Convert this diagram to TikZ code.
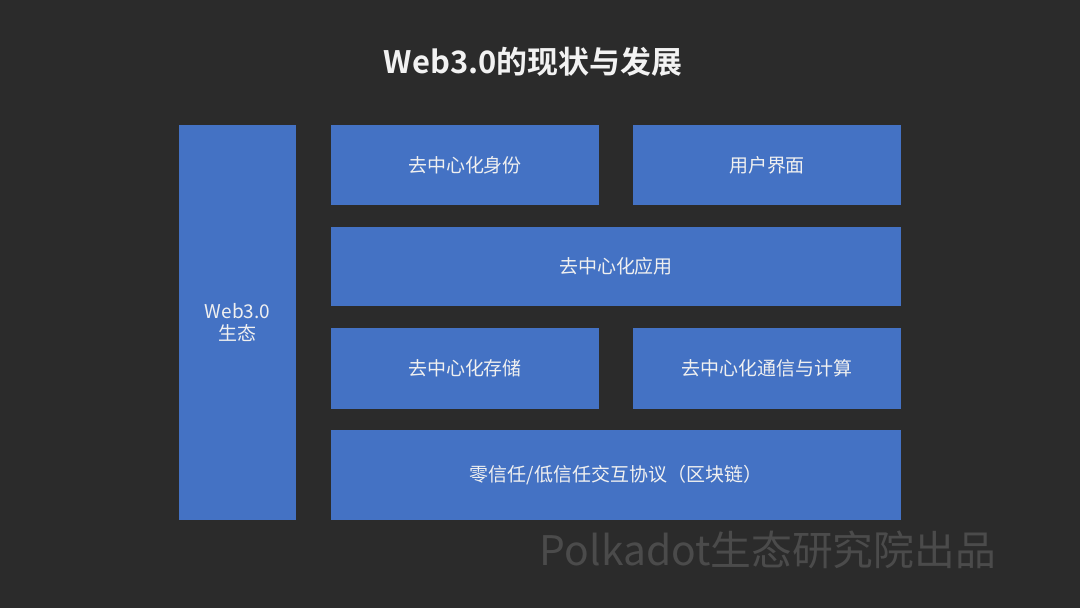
\documentclass[tikz,border=0pt]{standalone}
\usepackage{fontspec}
\setmainfont{Noto Sans CJK SC}
\newfontfamily\boldcjk{Noto Sans CJK SC Bold}
\usetikzlibrary{positioning}
\definecolor{bgdark}{HTML}{2B2B2B}
\definecolor{layerblue}{HTML}{4472C4}
\definecolor{markgray}{HTML}{4B4B4B}

\begin{document}
\begin{tikzpicture}[
    x=0.025cm, y=-0.025cm,
    layer/.style={fill=layerblue, draw=none, text=white!94!black, inner sep=0pt, font=\fontsize{13.5}{16}\selectfont, align=center},
    half/.style={layer, minimum width=6.7cm, minimum height=2.0cm},
    wide/.style={layer, minimum width=14.25cm, minimum height=1.975cm},
    title/.style={text=white!95!black, font=\boldcjk\fontsize{22}{26}\selectfont},
    watermark/.style={text=markgray, font=\fontsize{29}{34}\selectfont},
]

% Background
\fill[bgdark] (0,0) rectangle (1080,608);

\node[title] (title) at (533, 62) {Web3.0的现状与发展};

% Ecosystem column
\node[layer, minimum width=2.925cm, minimum height=9.875cm] (eco) at (237.5, 322.5) {Web3.0\\生态};

% Top row
\node[half] (ident) at (465, 165) {去中心化身份};
\node[half] (ui) at (767, 165) {用户界面};

% Applications
\node[wide] (dapp) at (616, 266.5) {去中心化应用};

% Storage and compute
\node[half] (store) at (465, 368.5) {去中心化存储};
\node[half] (comm) at (767, 368.5) {去中心化通信与计算};

% Protocol layer
\node[wide, minimum height=2.25cm] (chain) at (616, 475) {零信任/低信任交互协议（区块链）};

\node[watermark] (credit) at (768, 550) {Polkadot生态研究院出品};

\end{tikzpicture}
\end{document}
